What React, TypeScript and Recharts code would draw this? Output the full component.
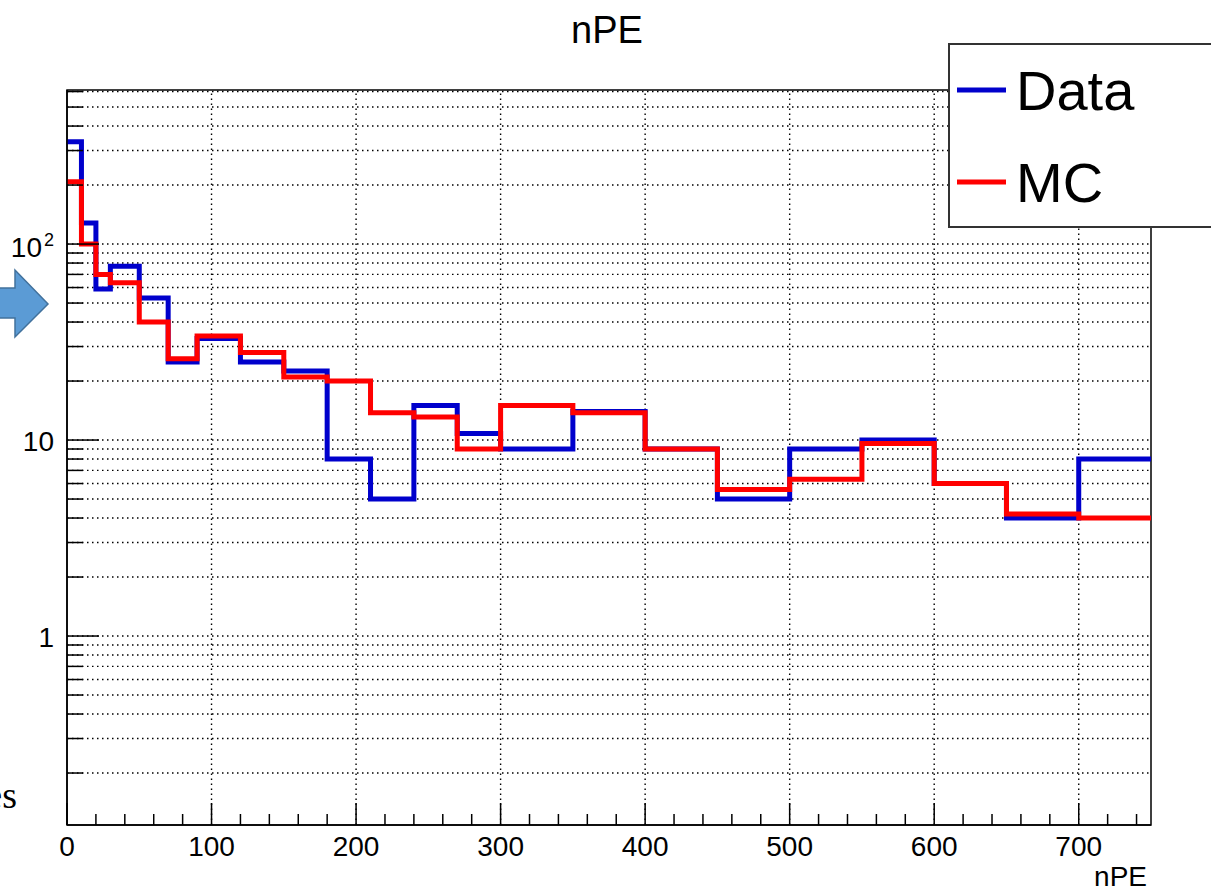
import React from 'react';
import { ComposedChart, Line, XAxis, YAxis, ReferenceLine, ReferenceArea } from 'recharts';

// Bin edges of the histogram (nPE)
const binEdges = [0, 10, 20, 30, 50, 70, 90, 120, 150, 180, 210, 240, 270, 300, 350, 400, 450, 500, 550, 600, 650, 700, 750];
// Counts per bin
const dataCounts = [333, 128, 59, 77, 53, 25, 33, 25, 22.5, 8, 5, 15, 10.8, 9, 14, 9, 5, 9, 10, 6, 4, 8];
const mcCounts = [208, 100, 70, 63.5, 40, 26, 34, 28, 21, 20, 13.8, 13.1, 9, 15, 13.8, 9, 5.6, 6.3, 9.6, 6, 4.2, 4];

const xTicks = [0, 20, 40, 60, 80, 100, 120, 140, 160, 180, 200, 220, 240, 260, 280, 300, 320, 340, 360, 380, 400, 420, 440, 460, 480, 500, 520, 540, 560, 580, 600, 620, 640, 660, 680, 700, 720, 740];
const xMajorTicks = [0, 100, 200, 300, 400, 500, 600, 700];
const xGridTicks = [100, 200, 300, 400, 500, 600, 700];
const yTicks = [0.2, 0.3, 0.4, 0.5, 0.6, 0.7, 0.8, 0.9, 1, 2, 3, 4, 5, 6, 7, 8, 9, 10, 20, 30, 40, 50, 60, 70, 80, 90, 100, 200, 300, 400, 500, 600];
const yMajorTicks = [1, 10, 100];
const xDomain: [number, number] = [0, 750];
const yDomain: [number, number] = [0.1086, 611];

const seriesNames = ['Data', 'MC'];
const seriesKeys = ['data', 'mc'];
const seriesColors = ['#0000cc', '#ff0000'];

const titleText = 'nPE';
const xAxisTitle = 'nPE';

const rows = binEdges.map((x, i) => ({
  x,
  data: dataCounts[Math.min(i, dataCounts.length - 1)],
  mc: mcCounts[Math.min(i, mcCounts.length - 1)],
}));

const FONT = '"Liberation Sans", Arial, Helvetica, sans-serif';

const XTick = (props: any) => {
  const { x, y, payload } = props;
  const v = payload.value;
  const major = xMajorTicks.includes(v);
  return (
    <g>
      <line x1={x} x2={x} y1={y} y2={y - (major ? 22 : 11)} stroke="#000" strokeWidth={1.5} />
      {major && (
        <text x={x} y={y + 31} textAnchor="middle" fontSize={28} fontFamily={FONT} fill="#000">
          {v}
        </text>
      )}
    </g>
  );
};

const YTick = (props: any) => {
  const { x, y, payload } = props;
  const v = payload.value;
  const major = yMajorTicks.includes(v);
  let label: React.ReactNode = null;
  if (v === 1 || v === 10) {
    label = (
      <text x={x - 13} y={y + 11} textAnchor="end" fontSize={28} fontFamily={FONT} fill="#000">
        {String(v)}
      </text>
    );
  } else if (v === 100) {
    label = (
      <text x={x - 13} y={y + 13} textAnchor="end" fontSize={28} fontFamily={FONT} fill="#000">
        <tspan>10</tspan>
        <tspan dy={-11} dx={2} fontSize={18}>2</tspan>
      </text>
    );
  }
  return (
    <g>
      <line x1={x} x2={x + (major ? 32 : 16)} y1={y} y2={y} stroke="#000" strokeWidth={1.5} />
      {label}
    </g>
  );
};

export default function App() {
  return (
    <div style={{ position: 'absolute', left: 0, top: 0, width: 1211, height: 892, overflow: 'hidden', background: '#fff' }}>
      <ComposedChart width={1211} height={892} data={rows} margin={{ top: 90, right: 60, bottom: 0, left: 0 }}>
        {xGridTicks.map((t) => (
          <ReferenceLine key={'gx' + t} x={t} stroke="#000" strokeWidth={1.4} strokeDasharray="1.5 3.5" ifOverflow="visible" />
        ))}
        {yTicks.map((t) => (
          <ReferenceLine key={'gy' + t} y={t} stroke="#000" strokeWidth={1.4} strokeDasharray="1.5 3.5" ifOverflow="visible" />
        ))}
        <XAxis
          dataKey="x"
          type="number"
          domain={xDomain}
          ticks={xTicks}
          interval={0}
          allowDataOverflow
          height={67}
          tickSize={0}
          tickMargin={0}
          tickLine={false}
          axisLine={{ stroke: '#000', strokeWidth: 1.5 }}
          tick={<XTick />}
        />
        <YAxis
          type="number"
          scale="log"
          domain={yDomain}
          ticks={yTicks}
          interval={0}
          allowDataOverflow
          width={67}
          tickSize={0}
          tickMargin={0}
          tickLine={false}
          axisLine={{ stroke: '#000', strokeWidth: 1.5 }}
          tick={<YTick />}
        />
        <ReferenceArea x1={xDomain[0]} x2={xDomain[1]} y1={yDomain[0]} y2={yDomain[1]} fill="none" fillOpacity={0} stroke="#000" strokeWidth={1.5} ifOverflow="visible" />
        {seriesKeys.map((k, i) => (
          <Line
            key={k}
            type="stepAfter"
            dataKey={k}
            name={seriesNames[i]}
            stroke={seriesColors[i]}
            strokeWidth={5}
            dot={false}
            activeDot={false}
            isAnimationActive={false}
          />
        ))}
      </ComposedChart>
      <svg width={1211} height={892} style={{ position: 'absolute', left: 0, top: 0, pointerEvents: 'none' }}>
        <text x={607} y={43} textAnchor="middle" fontSize={38} fontFamily={FONT} fill="#000">{titleText}</text>
        <text x={1147} y={886} textAnchor="end" fontSize={28} fontFamily={FONT} fill="#000">{xAxisTitle}</text>
        <polygon points="-2,288 15,288 15,270 48,304 15,337 15,318 -2,318" fill="#5b9bd5" stroke="#41719c" strokeWidth={1.5} />
        <text x={17} y={808} textAnchor="end" fontSize={38} fontFamily={'"Liberation Serif", "Times New Roman", serif'} fill="#000">es</text>
        <rect x={949} y={44} width={300} height={183} fill="#fff" stroke="#333" strokeWidth={2} />
        {seriesNames.map((n, i) => (
          <g key={n}>
            <line x1={957} x2={1006} y1={90 + i * 92} y2={90 + i * 92} stroke={seriesColors[i]} strokeWidth={5} />
            <text x={1016} y={110 + i * 92} fontSize={56} fontFamily={FONT} fill="#000">{n}</text>
          </g>
        ))}
      </svg>
    </div>
  );
}
